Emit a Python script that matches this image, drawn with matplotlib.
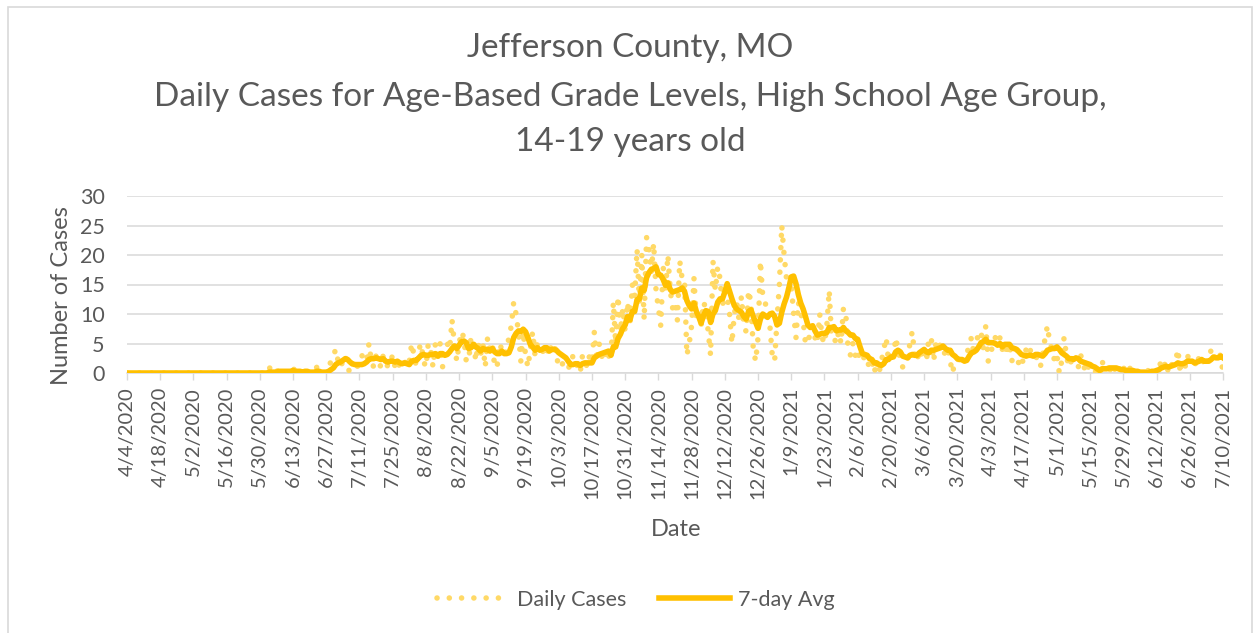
import matplotlib.pyplot as plt
import matplotlib.patches as patches
import numpy as np
import pandas as pd

plt.rcParams['font.family'] = ['Lato', 'DejaVu Sans']

# daily cases, 4/4/2020 .. 7/10/2021, one row per week
daily_cases = [
    0, 0, 0, 0, 0, 0, 0,
    0, 0, 0, 0, 0, 0, 0,
    0, 0, 0, 0, 0, 0, 0,
    0, 0, 0, 0, 0, 0, 0,
    0, 0, 0, 0, 0, 0, 0,
    0, 0, 0, 0, 0, 0, 0,
    0, 0, 0, 0, 0, 0, 0,
    0, 0, 0, 0, 0, 0, 0,
    0, 0, 0, 0, 1, 0, 0,
    0, 1, 0, 0, 1, 0, 0,
    1, 0, 0, 0, 0, 1, 0,
    0, 0, 0, 1, 0, 0, 0,
    0, 1, 2, 3, 4, 2, 1,
    2, 3, 1, 0, 2, 1, 1,
    2, 3, 2, 2, 5, 2, 1,
    3, 2, 1, 3, 2, 1, 2,
    3, 1, 2, 1, 1, 2, 1,
    2, 5, 3, 1, 4, 5, 2,
    1, 5, 4, 1, 5, 2, 5,
    1, 3, 5, 4, 9, 5, 2,
    5, 7, 6, 2, 2, 6, 6,
    2, 5, 3, 5, 1, 6, 4,
    5, 1, 1, 5, 4, 3, 4,
    6, 8, 12, 10, 7, 2, 7,
    3, 1, 4, 7, 3, 5, 4,
    4, 3, 4, 3, 5, 5, 3,
    1, 1, 2, 1, 1, 1, 3,
    2, 1, 0, 3, 2, 1, 3,
    2, 7, 2, 5, 3, 2, 4,
    3, 2, 12, 5, 13, 7, 11,
    7, 12, 8, 15, 13, 21, 12,
    20, 9, 23, 21, 17, 22, 14,
    11, 8, 18, 14, 20, 14, 11,
    12, 9, 19, 16, 16, 3, 5,
    8, 16, 9, 10, 8, 12, 11,
    7, 3, 19, 14, 18, 16, 11,
    15, 13, 10, 5, 10, 12, 9,
    13, 8, 7, 14, 12, 4, 2,
    6, 19, 13, 12, 10, 8, 3,
    2, 9, 15, 25, 20, 16, 14,
    15, 10, 6, 12, 10, 9, 5,
    5, 7, 8, 6, 5, 10, 6,
    5, 8, 14, 6, 6, 5, 7,
    5, 11, 10, 4, 3, 5, 3,
    4, 2, 2, 3, 2, 1, 2,
    0, 2, 0, 2, 4, 6, 2,
    3, 2, 6, 4, 2, 1, 1,
    2, 5, 7, 3, 2, 4, 3,
    4, 2, 6, 6, 2, 5, 4,
    5, 4, 3, 4, 2, 0, 2,
    2, 3, 3, 2, 3, 5, 6,
    3, 5, 7, 7, 4, 8, 2,
    3, 5, 6, 5, 6, 4, 5,
    3, 5, 2, 4, 5, 1, 2,
    2, 4, 3, 4, 4, 3, 2,
    1, 3, 6, 8, 5, 4, 2,
    3, 0, 2, 6, 3, 1, 2,
    2, 2, 1, 3, 2, 0, 1,
    1, 0, 0, 1, 0, 2, 1,
    1, 1, 0, 1, 0, 1, 0,
    1, 0, 0, 1, 0, 0, 0,
    0, 0, 0, 0, 1, 1, 0,
    1, 1, 2, 1, 2, 0, 1,
    2, 2, 4, 0, 2, 1, 3,
    2, 2, 2, 1, 3, 3, 1,
    2, 2, 4, 4, 2, 3, 3,
    0,
]

dates = pd.date_range('2020-04-04', '2021-07-10', freq='D')
df = pd.DataFrame({'date': dates, 'daily': daily_cases})
df['avg7'] = df['daily'].rolling(7, min_periods=1).mean()

txt = '#595959'
grid = '#D9D9D9'

fig = plt.figure(figsize=(12.53, 6.33), dpi=100)
fig.patches.append(patches.Rectangle((8 / 1253, -0.01), 1244 / 1253, 1 - 7 / 633 + 0.01,
                                     transform=fig.transFigure, fill=False,
                                     edgecolor=grid, linewidth=1.2))

ax = fig.add_axes([127 / 1253, 1 - 373 / 633, (1223 - 127) / 1253, (373 - 196) / 633])
x = np.arange(len(df))

ax.plot(x, df['daily'], color='#FFD966', linewidth=4,
        linestyle=(0, (0.01, 2.2)), dash_capstyle='round', label='Daily Cases', zorder=3)
ax.plot(x, df['avg7'], color='#FFC000', linewidth=4, solid_joinstyle='round',
        label='7-day Avg', zorder=4)

ax.set_xlim(0, len(df) - 1)
ax.set_ylim(0, 30)
ax.set_yticks(range(0, 31, 5))
ax.grid(axis='y', color=grid, linewidth=1.1)
ax.set_axisbelow(True)

tick_pos = x[::14]
ax.set_xticks(tick_pos)
ax.set_xticklabels([f'{d.month}/{d.day}/{d.year}' for d in df['date'].iloc[::14]],
                   rotation=90)

for s in ['top', 'right', 'left']:
    ax.spines[s].set_visible(False)
ax.spines['bottom'].set_color(grid)
ax.spines['bottom'].set_linewidth(1.1)
ax.tick_params(axis='x', colors=txt, labelsize=14.5, length=5, width=1, color=grid, pad=5)
ax.tick_params(axis='y', colors=txt, labelsize=15.5, length=0, pad=16)

fig.text(630 / 1253, 1 - 48 / 633, 'Jefferson County, MO', ha='center', va='center',
         fontsize=24, color=txt)
fig.text(630 / 1253, 1 - 97 / 633,
         'Daily Cases for Age-Based Grade Levels, High School Age Group,',
         ha='center', va='center', fontsize=24, color=txt)
fig.text(630 / 1253, 1 - 142 / 633, '14-19 years old', ha='center', va='center',
         fontsize=24, color=txt)

fig.text(62 / 1253, 1 - 296 / 633, 'Number of Cases', rotation=90, ha='center',
         va='center', fontsize=17, color=txt)
fig.text(676 / 1253, 1 - 530 / 633, 'Date', ha='center', va='center',
         fontsize=17, color=txt)

leg = fig.legend(loc='center', bbox_to_anchor=(636 / 1253, 1 - 600 / 633), ncol=2,
                 frameon=False, fontsize=15.5, handlelength=3.3, columnspacing=1.5,
                 handletextpad=0.4)
for t in leg.get_texts():
    t.set_color(txt)

fig.savefig('out.png', dpi=100)
